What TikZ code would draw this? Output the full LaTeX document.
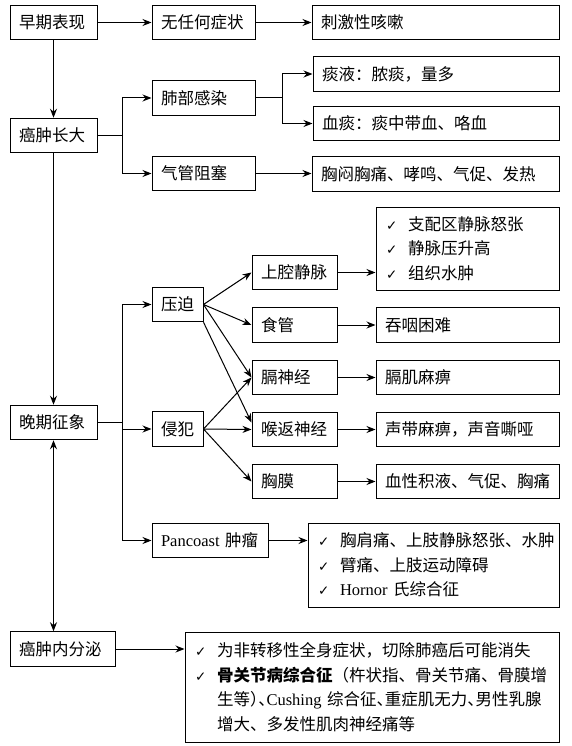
\documentclass[tikz,border=0pt]{standalone}
\usepackage{fontspec}
\setmainfont{Noto Sans CJK SC}
\newfontfamily\latin{Liberation Serif}
\newfontfamily\symb{DejaVu Sans}
\newfontfamily\cjkhalt[RawFeature=+halt]{Noto Sans CJK SC}
\usetikzlibrary{arrows.meta}
\newcommand{\ok}{\makebox[22pt][l]{\symb\fontsize{13.5}{13.5}\selectfont ✓}}

\begin{document}
\begin{tikzpicture}[x=1pt, y=-1pt,
    box/.style={
        rectangle,
        draw,
        line width=1pt,
        minimum height=34.5pt,
        inner xsep=9pt,
        inner ysep=0pt,
        font=\fontsize{16.5}{24.5}\selectfont,
        align=left
    },
    link/.style={-{Stealth[length=9pt,width=7pt]}, line width=1pt},
    twoway/.style={{Stealth[length=9pt,width=7pt]}-{Stealth[length=9pt,width=7pt]}, line width=1pt}
]
\fill[white] (0,0) rectangle (572,746);
\useasboundingbox (0,0) rectangle (572,746);

% Early stage
\node[box, text width=69pt] (zaoqi) at (53.5,22.5) {早期表现};
\node[box, text width=85pt] (wuzheng) at (203.5,22.5) {无任何症状};
\node[box, text width=229pt] (kesou) at (435.5,22.5) {刺激性咳嗽};

% Tumour growth
\node[box, text width=69pt] (zhangda) at (53.5,135.5) {癌肿长大};
\node[box, text width=85pt] (ganran) at (203.5,98) {肺部感染};
\node[box, text width=85pt] (zuse) at (203.5,173.5) {气管阻塞};
\node[box, text width=228pt] (tanye) at (436,74) {痰液：脓痰，量多};
\node[box, text width=228pt] (xuetan) at (436,123.5) {血痰：痰中带血、咯血};
\node[box, text width=229pt] (xiongmen) at (435.5,174) {胸闷胸痛、哮鸣、气促、发热};

% Late stage
\node[box, text width=69pt] (wanqi) at (53.5,422.5) {晚期征象};
\node[box, text width=33pt] (yapo) at (177.5,304.5) {压迫};
\node[box, text width=33pt] (qinfan) at (177.5,429) {侵犯};
\node[box, text width=98pt] (pancoast) at (210,540.5) {{\latin Pancoast} 肿瘤};
\node[box, text width=67pt] (shangqiang) at (294.5,272.5) {上腔静脉};
\node[box, text width=67pt] (shiguan) at (294.5,325) {食管};
\node[box, text width=67pt] (geshen) at (294.5,377.5) {膈神经};
\node[box, text width=67pt] (houfan) at (294.5,429.5) {喉返神经};
\node[box, text width=67pt] (xiongmo) at (294.5,481.5) {胸膜};
\node[box, text width=163pt, inner xsep=10pt, minimum height=83pt] (jingmai) at (467.5,248.5)
    {\ok 支配区静脉怒张\\ \ok 静脉压升高\\ \ok 组织水肿};
\node[box, text width=165pt] (tunyan) at (467.5,325) {吞咽困难};
\node[box, text width=165pt] (geji) at (467.5,377.5) {膈肌麻痹};
\node[box, text width=165pt] (shengdai) at (467.5,429.5) {声带麻痹，声音嘶哑};
\node[box, text width=165pt] (jiye) at (467.5,481.5) {血性积液、气促、胸痛};
\node[box, text width=231pt, inner xsep=10pt, minimum height=84pt] (jianbi) at (433.5,565)
    {\ok 胸肩痛、上肢静脉怒张、水肿\\ \ok 臂痛、上肢运动障碍\\ \ok {\latin Hornor} 氏综合征};

% Endocrine
\node[box, text width=87pt] (neifenmi) at (62.5,649) {癌肿内分泌};
\node[box, text width=354pt, inner xsep=10pt, minimum height=110pt] (zonghe) at (372,687)
    {\ok 为非转移性全身症状，切除肺癌后可能消失\\
     \ok \textbf{骨关节病综合征}（杵状指、骨关节痛、骨膜增\\
     \hspace*{22pt}{\cjkhalt 生等）、{\latin Cushing} 综合征、重症肌无力、男性乳腺}\\
     \hspace*{22pt}增大、多发性肌肉神经痛等};

% Main column
\draw[link] (zaoqi) -- (zhangda);
\draw[link] (zhangda) -- (wanqi);
\draw[twoway] (wanqi.south) -- (wanqi.south |- neifenmi.north);

% Arrows
\draw[link] (zaoqi) -- (wuzheng);
\draw[link] (wuzheng) -- (kesou);
\coordinate (fenzhi1) at (122,135.5);
\draw[line width=1pt] (zhangda) -- (fenzhi1);
\draw[link] (fenzhi1) |- (ganran);
\draw[link] (fenzhi1) |- (zuse);
\draw[link] (zuse) -- (zuse -| xiongmen.west);
\coordinate (fenzhi2) at (282,98);
\draw[line width=1pt] (ganran) -- (fenzhi2);
\draw[link] (fenzhi2) |- (tanye);
\draw[link] (fenzhi2) |- (xuetan);

\coordinate (fenzhi3) at (122,422.5);
\draw[line width=1pt] (wanqi) -- (fenzhi3);
\draw[link] (fenzhi3) |- (yapo);
\draw[link] (fenzhi3) |- (qinfan);
\draw[link] (fenzhi3) |- (pancoast);
\draw[link] (yapo.east) -- (shangqiang.west);
\draw[link] (yapo.east) -- (shiguan.west);
\draw[link] (yapo.east) -- (geshen.west);
\draw[link] (yapo.south east) -- ([yshift=7pt]houfan.west);
\draw[link] (qinfan.east) -- (geshen.west);
\draw[link] (qinfan.east) -- (houfan.west);
\draw[link] (qinfan.east) -- (xiongmo.west);
\draw[link] (shangqiang) -- (shangqiang -| jingmai.west);
\draw[link] (shiguan) -- (tunyan);
\draw[link] (geshen) -- (geji);
\draw[link] (houfan) -- (shengdai);
\draw[link] (xiongmo) -- (jiye);
\draw[link] (pancoast) -- (pancoast -| jianbi.west);
\draw[link] (neifenmi) -- (neifenmi -| zonghe.west);

\end{tikzpicture}
\end{document}
